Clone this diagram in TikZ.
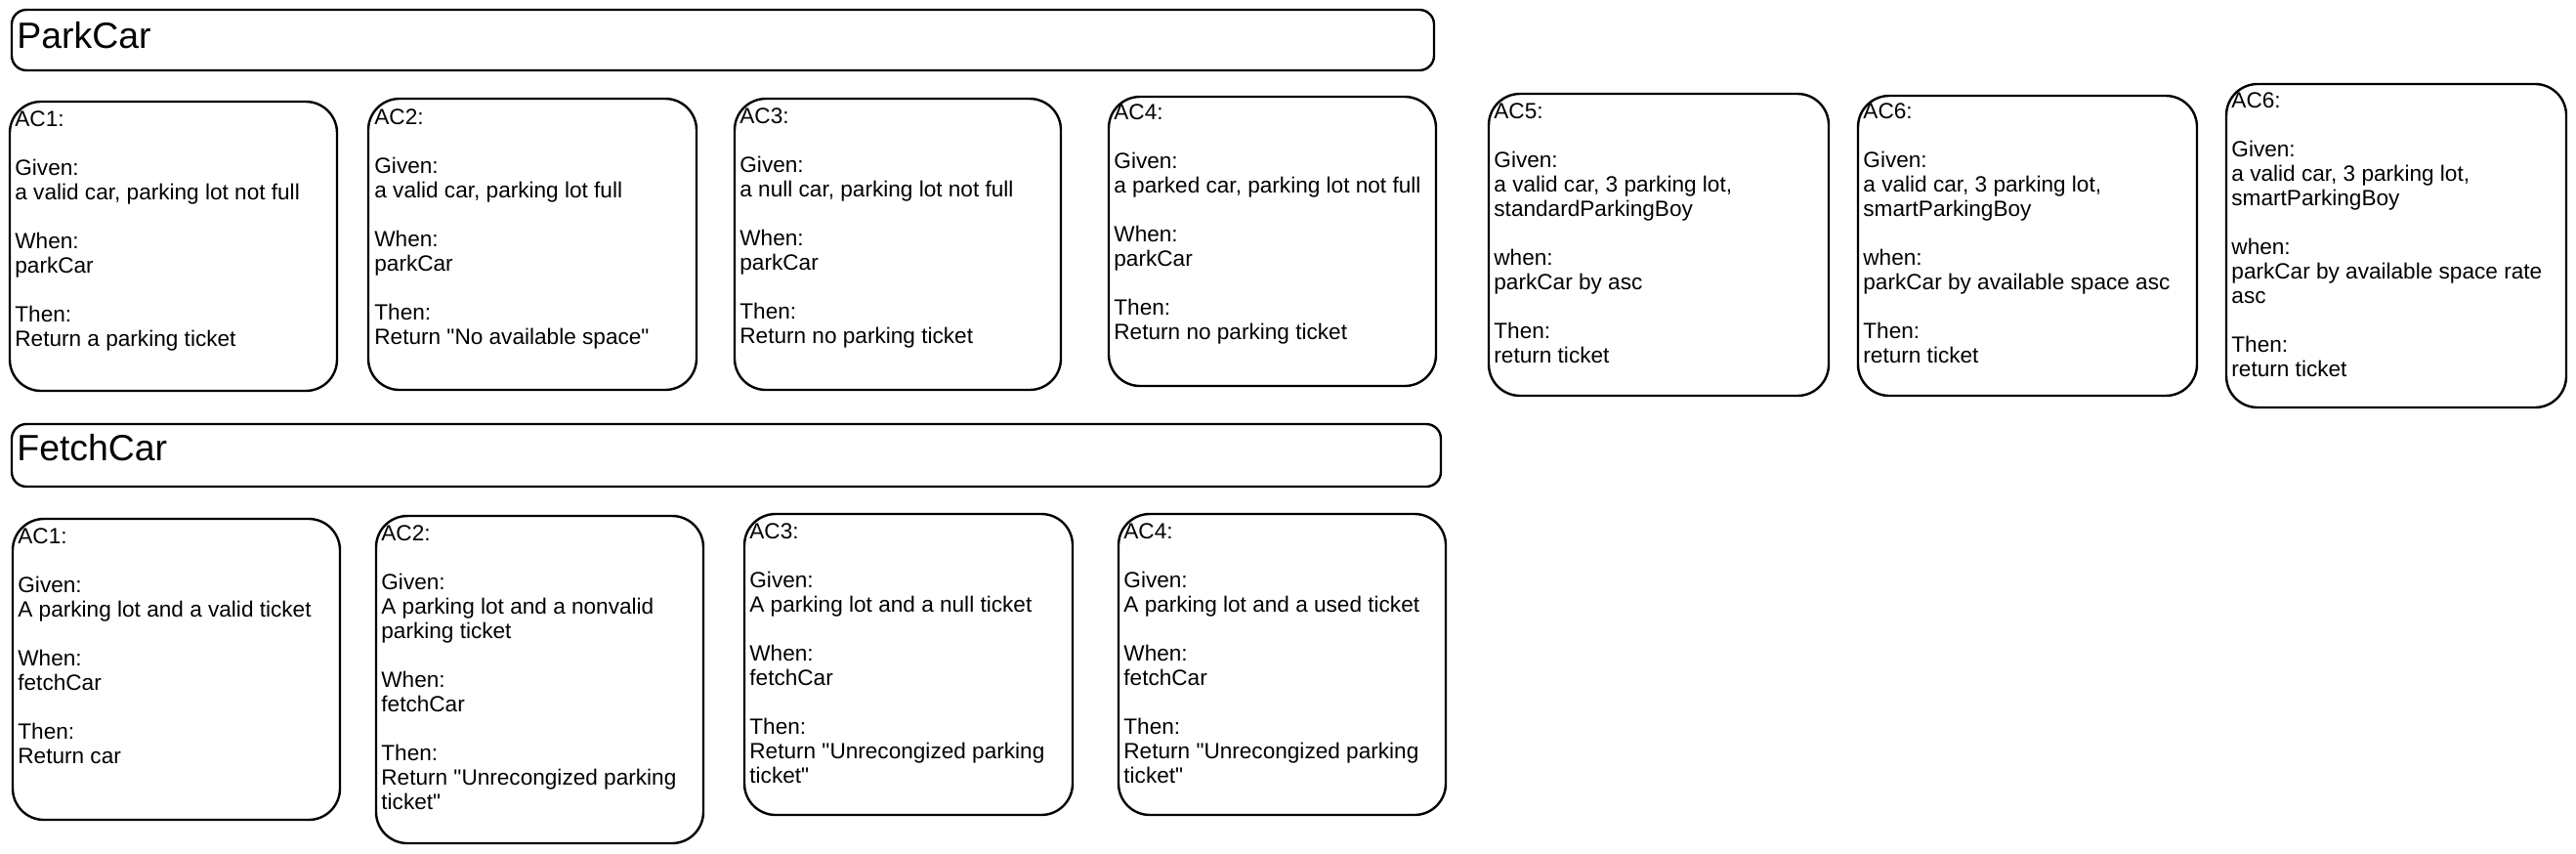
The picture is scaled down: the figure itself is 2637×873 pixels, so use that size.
\documentclass[tikz,border=0pt]{standalone}
\usepackage{fontspec}
\setmainfont{Liberation Sans}[Ligatures=TeXOff]
\usetikzlibrary{fit}
\begin{document}
\begin{tikzpicture}[x=0.5pt,y=-0.5pt,
  card/.style={draw=black, line width=1.2pt, rounded corners=16pt, inner sep=0pt},
  bar/.style={draw=black, line width=1.2pt, rounded corners=7.5pt, inner sep=0pt},
  txt/.style={anchor=north west, inner sep=0pt, align=left, yshift=-1.75pt,
    font=\fontsize{11.3pt}{12.5pt}\selectfont, execute at begin node=\strut},
  ttl/.style={anchor=base west, inner sep=0pt, font=\fontsize{18.7pt}{22pt}\selectfont}]
\useasboundingbox[fill=white] (0,0) rectangle (2637,873);

% ---- ParkCar ----
\node[bar, fit={(12,10) (1468,72)}] (parkbar) {};
\node[ttl] (parktitle) at (17,49) {ParkCar};

\node[card, fit={(10,104) (345,400)}] (pa1) {};
\node[txt] (pa1t) at (15,109.5) {AC1:\\ \\Given:\\a valid car, parking lot not full\\ \\When:\\parkCar\\ \\Then:\\Return a parking ticket};

\node[card, fit={(377,101) (713,399)}] (pa2) {};
\node[txt] (pa2t) at (383,107.5) {AC2:\\ \\Given:\\a valid car, parking lot full\\ \\When:\\parkCar\\ \\Then:\\Return "No available space"};

\node[card, fit={(752,101) (1086,399)}] (pa3) {};
\node[txt] (pa3t) at (757,106.5) {AC3:\\ \\Given:\\a null car, parking lot not full\\ \\When:\\parkCar\\ \\Then:\\Return no parking ticket};

\node[card, fit={(1135,99) (1470,395)}] (pa4) {};
\node[txt] (pa4t) at (1140,102.5) {AC4:\\ \\Given:\\a parked car, parking lot not full\\ \\When:\\parkCar\\ \\Then:\\Return no parking ticket};

\node[card, fit={(1524,96) (1872,405)}] (pa5) {};
\node[txt] (pa5t) at (1529,101.5) {AC5:\\ \\Given:\\a valid car, 3 parking lot,\\standardParkingBoy\\ \\when:\\parkCar by asc\\ \\Then:\\return ticket};

\node[card, fit={(1902,98) (2249,405)}] (pa6) {};
\node[txt] (pa6t) at (1907,101.5) {AC6:\\ \\Given:\\a valid car, 3 parking lot,\\smartParkingBoy\\ \\when:\\parkCar by available space asc\\ \\Then:\\return ticket};

\node[card, fit={(2279,86) (2627,417)}] (pa7) {};
\node[txt] (pa7t) at (2284,90.5) {AC6:\\ \\Given:\\a valid car, 3 parking lot,\\smartParkingBoy\\ \\when:\\parkCar by available space rate\\asc\\ \\Then:\\return ticket};

% ---- FetchCar ----
\node[bar, fit={(12,434) (1475,498)}] (fetchbar) {};
\node[ttl] (fetchtitle) at (17,471) {FetchCar};

\node[card, fit={(13,531) (348,839)}] (fa1) {};
\node[txt] (fa1t) at (18,536.5) {AC1:\\ \\Given:\\A parking lot and a valid ticket\\ \\When:\\fetchCar\\ \\Then:\\Return car};

\node[card, fit={(385,528) (720,863)}] (fa2) {};
\node[txt] (fa2t) at (390,533.5) {AC2:\\ \\Given:\\A parking lot and a nonvalid\\parking ticket\\ \\When:\\fetchCar\\ \\Then:\\Return "Unrecongized parking\\ticket"};

\node[card, fit={(762,526) (1098,834)}] (fa3) {};
\node[txt] (fa3t) at (767,531.5) {AC3:\\ \\Given:\\A parking lot and a null ticket\\ \\When:\\fetchCar\\ \\Then:\\Return "Unrecongized parking\\ticket"};

\node[card, fit={(1145,526) (1480,834)}] (fa4) {};
\node[txt] (fa4t) at (1150,531.5) {AC4:\\ \\Given:\\A parking lot and a used ticket\\ \\When:\\fetchCar\\ \\Then:\\Return "Unrecongized parking\\ticket"};
\end{tikzpicture}
\end{document}
